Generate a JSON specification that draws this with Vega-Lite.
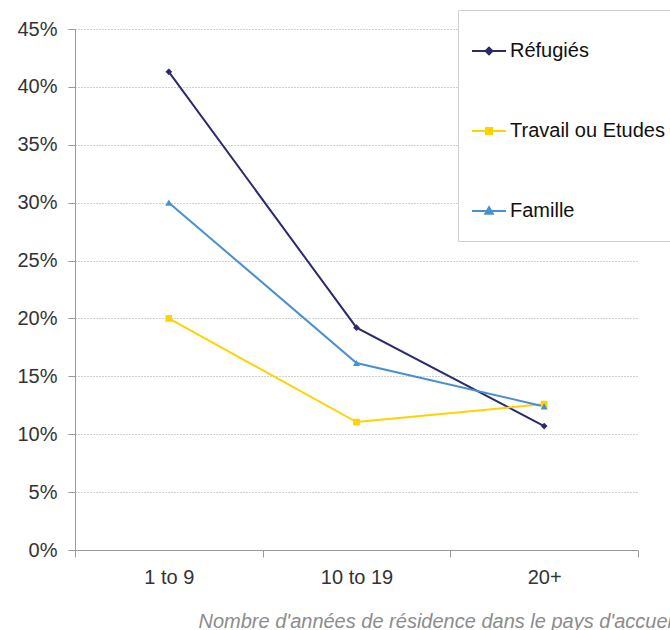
{
  "$schema": "https://vega.github.io/schema/vega-lite/v6.json",
  "width": 563,
  "height": 521,
  "autosize": {"type": "none"},
  "padding": {"left": 75, "top": 29, "right": 32, "bottom": 80},
  "background": "white",
  "config": {
    "view": {"stroke": null},
    "font": "Liberation Sans"
  },
  "data": {
    "values": [
      {"periode": "1 to 9", "motif": "Réfugiés", "part": 0.413},
      {"periode": "10 to 19", "motif": "Réfugiés", "part": 0.192},
      {"periode": "20+", "motif": "Réfugiés", "part": 0.107},
      {"periode": "1 to 9", "motif": "Travail ou Etudes", "part": 0.200},
      {"periode": "10 to 19", "motif": "Travail ou Etudes", "part": 0.1105},
      {"periode": "20+", "motif": "Travail ou Etudes", "part": 0.126},
      {"periode": "1 to 9", "motif": "Famille", "part": 0.300},
      {"periode": "10 to 19", "motif": "Famille", "part": 0.1615},
      {"periode": "20+", "motif": "Famille", "part": 0.124}
    ]
  },
  "encoding": {
    "x": {
      "field": "periode",
      "type": "nominal",
      "sort": ["1 to 9", "10 to 19", "20+"],
      "scale": {"type": "band", "paddingInner": 0, "paddingOuter": 0},
      "axis": {
        "title": "Nombre d'années de résidence dans le pays d'accueil",
        "titleFont": "Liberation Sans",
        "titleFontStyle": "italic",
        "titleFontWeight": "normal",
        "titleFontSize": 20,
        "titleColor": "#8c8c8c",
        "titleAnchor": "start",
        "titleAlign": "left",
        "titleX": 123,
        "titleY": 77,
        "titleBaseline": "alphabetic",
        "labelAngle": 0,
        "labelFontSize": 20,
        "labelColor": "#333333",
        "labelPadding": 10,
        "tickBand": "extent",
        "tickSize": 7,
        "tickColor": "#999999",
        "domainColor": "#999999",
        "grid": false
      }
    },
    "y": {
      "field": "part",
      "type": "quantitative",
      "scale": {"domain": [0, 0.45], "nice": false},
      "axis": {
        "title": null,
        "values": [0, 0.05, 0.1, 0.15, 0.2, 0.25, 0.3, 0.35, 0.4, 0.45],
        "format": ".0%",
        "labelFontSize": 20,
        "labelColor": "#333333",
        "labelPadding": 11,
        "tickSize": 7,
        "tickColor": "#999999",
        "domainColor": "#999999",
        "grid": true,
        "gridColor": "#a0a0a0",
        "gridDash": [1, 2],
        "gridWidth": 1
      }
    },
    "color": {
      "field": "motif",
      "type": "nominal",
      "scale": {
        "domain": ["Réfugiés", "Travail ou Etudes", "Famille"],
        "range": ["#2B2A6B", "#FFD200", "#4A8FD0"]
      },
      "legend": {
        "orient": "none",
        "legendX": 383,
        "legendY": -19,
        "title": "\u00a0",
        "titleFontSize": 2,
        "titlePadding": 1,
        "padding": 20,
        "strokeColor": "#d0d0d0",
        "fillColor": "white",
        "labelFontSize": 20,
        "labelColor": "#111111",
        "labelFont": "Liberation Sans",
        "labelOffset": -4,
        "labelLimit": 300,
        "rowPadding": 52,
        "symbolSize": 1156,
        "symbolStrokeWidth": 2,
        "encode": {
          "symbols": {
            "update": {
              "shape": {"signal": "datum.value === 'Réfugiés' ? 'M-1.41,0H0.59M-0.41,-0.2L-0.21,0L-0.41,0.2L-0.61,0Z' : datum.value === 'Famille' ? 'M-1.41,0H0.59M-0.41,-0.22L-0.19,0.16H-0.63Z' : 'M-1.41,0H0.59M-0.59,-0.18H-0.23V0.18H-0.59Z'"},
              "fill": {"signal": "scale('color', datum.value)"},
              "stroke": {"signal": "scale('color', datum.value)"},
              "strokeWidth": {"value": 2},
              "opacity": {"value": 1},
              "fillOpacity": {"value": 1}
            }
          }
        }
      }
    }
  },
  "layer": [
    {
      "mark": {"type": "line", "strokeWidth": 2}
    },
    {
      "transform": [{"filter": "datum.motif === 'Réfugiés'"}],
      "mark": {"type": "point", "filled": true, "opacity": 1, "size": 45, "shape": "diamond"}
    },
    {
      "transform": [{"filter": "datum.motif === 'Travail ou Etudes'"}],
      "mark": {"type": "point", "filled": true, "opacity": 1, "size": 45, "shape": "square"}
    },
    {
      "transform": [{"filter": "datum.motif === 'Famille'"}],
      "mark": {"type": "point", "filled": true, "opacity": 1, "size": 50, "shape": "triangle-up"}
    }
  ]
}
